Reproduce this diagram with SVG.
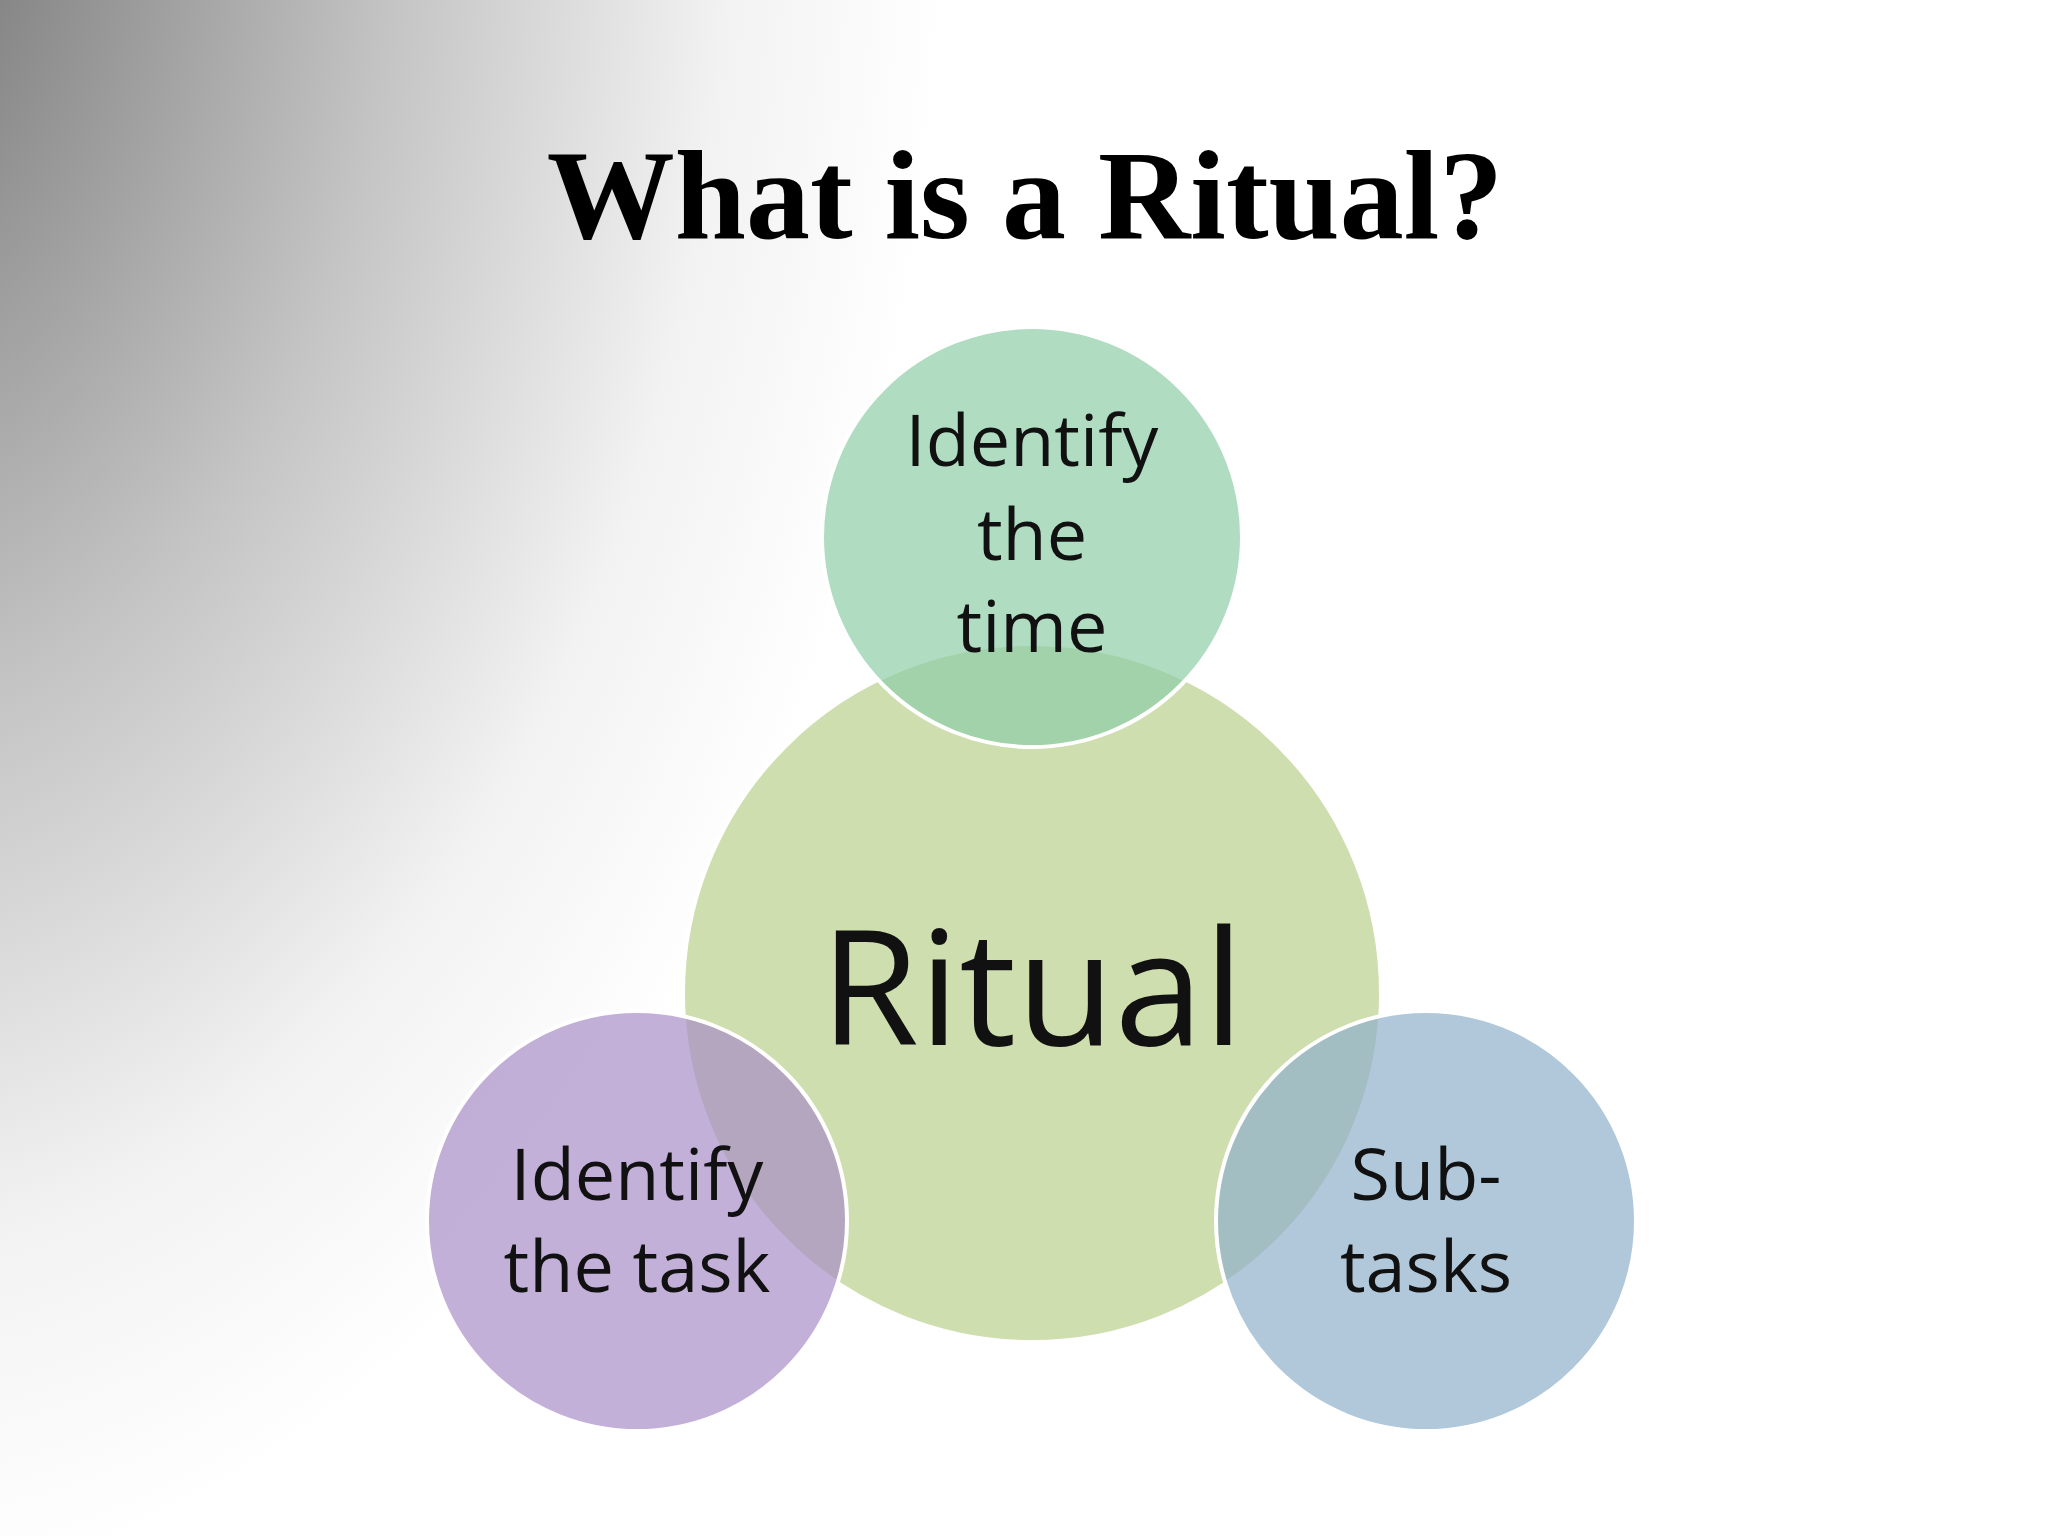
<svg xmlns="http://www.w3.org/2000/svg" width="2048" height="1536" viewBox="0 0 2048 1536">
<defs>
<radialGradient id="bg" cx="0" cy="0" r="1" gradientUnits="userSpaceOnUse" gradientTransform="translate(-150,-150) scale(1100,1750)">
<stop offset="0" stop-color="#6a6a6a"/>
<stop offset="0.5" stop-color="#c4c4c4"/>
<stop offset="0.8" stop-color="#f2f2f2"/>
<stop offset="1" stop-color="#ffffff"/>
</radialGradient>
<style>
.c{stroke:#fff;stroke-width:4}
.t{font-family:"Open Sans","Noto Sans",sans-serif;fill:#111;text-anchor:middle}
</style>
</defs>
<rect width="2048" height="1536" fill="url(#bg)"/>
<text x="1025" y="238" font-family="'Liberation Serif','DejaVu Serif',serif" font-weight="bold" font-size="128" text-anchor="middle" fill="#000">What is a Ritual?</text>
<g id="center"><circle class="c" cx="1032" cy="993" r="349" fill="#cfdeae"/></g>
<g id="top"><circle class="c" cx="1032" cy="537" r="210" fill="#8fcda8" fill-opacity="0.7"/></g>
<g id="left"><circle class="c" cx="637" cy="1221" r="210" fill="#a98fc7" fill-opacity="0.7"/></g>
<g id="right"><circle class="c" cx="1426" cy="1221" r="210" fill="#8fb0cb" fill-opacity="0.7"/></g>
<g id="labels">
<text class="t" x="1032" y="1045" font-size="160">Ritual</text>
<text class="t" x="1032" y="466" font-size="72">Identify</text>
<text class="t" x="1032" y="560" font-size="72">the</text>
<text class="t" x="1032" y="652" font-size="72">time</text>
<text class="t" x="637" y="1200" font-size="72">Identify</text>
<text class="t" x="637" y="1292" font-size="72">the task</text>
<text class="t" x="1426" y="1200" font-size="72">Sub-</text>
<text class="t" x="1426" y="1292" font-size="72">tasks</text>
</g>
<g id="connectors"/>
</svg>
